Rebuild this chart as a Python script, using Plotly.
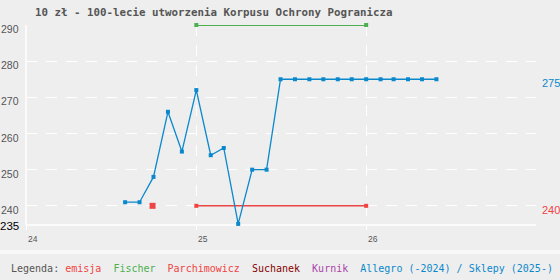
import plotly.graph_objects as go

# ---- data ----
months = ["2024-08-01", "2024-09-01", "2024-10-01", "2024-11-01", "2024-12-01",
          "2025-01-01", "2025-02-01", "2025-03-01", "2025-04-01", "2025-05-01",
          "2025-06-01", "2025-07-01", "2025-08-01", "2025-09-01", "2025-10-01",
          "2025-11-01", "2025-12-01", "2026-01-01", "2026-02-01", "2026-03-01",
          "2026-04-01", "2026-05-01", "2026-06-01"]
allegro = [241, 241, 248, 266, 255, 272, 254, 256, 235, 250, 250, 275,
           275, 275, 275, 275, 275, 275, 275, 275, 275, 275, 275]

emisja_date = ["2024-09-29"]
emisja_val = [240]

fischer_dates = ["2025-01-01", "2026-01-01"]
fischer_vals = [290, 290]

parch_dates = ["2025-01-01", "2026-01-01"]
parch_vals = [240, 240]

y_ticks = [240, 250, 260, 270, 280, 290]
x_ticks = ["2024-01-01", "2025-01-01", "2026-01-01"]
x_tick_text = ["24", "25", "26"]
y_min_label = 235

title = "10 zł - 100-lecie utworzenia Korpusu Ochrony Pogranicza"

BLUE = "#0a88cc"
RED = "#ee4444"
GREEN = "#4cb050"
GREY = "#555555"
BG = "#eeeeee"

fig = go.Figure()

fig.add_trace(go.Scatter(x=fischer_dates, y=fischer_vals, mode="lines+markers",
                         line=dict(color=GREEN, width=1.8),
                         marker=dict(symbol="square", size=4, color=GREEN),
                         cliponaxis=False, hoverinfo="skip"))
fig.add_trace(go.Scatter(x=parch_dates, y=parch_vals, mode="lines+markers",
                         line=dict(color=RED, width=1.5),
                         marker=dict(symbol="square", size=4, color=RED),
                         cliponaxis=False, hoverinfo="skip"))
fig.add_trace(go.Scatter(x=months, y=allegro, mode="lines+markers",
                         line=dict(color=BLUE, width=1.3),
                         marker=dict(symbol="square", size=4, color=BLUE),
                         cliponaxis=False, hoverinfo="skip"))
fig.add_trace(go.Scatter(x=emisja_date, y=emisja_val, mode="markers",
                         marker=dict(symbol="square", size=6, color=RED),
                         cliponaxis=False, hoverinfo="skip"))

fig.update_layout(
    width=560, height=280,
    margin=dict(l=26, r=24, t=25, b=55),
    paper_bgcolor=BG, plot_bgcolor=BG,
    showlegend=False,
)

fig.update_xaxes(
    type="date", range=["2024-01-01", "2027-01-01"],
    tickvals=x_ticks, ticktext=["", "", ""],
    showgrid=True, gridcolor="white", gridwidth=1, griddash="11px,9px",
    showline=False, zeroline=False,
    ticks="outside", ticklen=4, tickcolor="white", tickwidth=1,
)
fig.update_yaxes(
    range=[234.7, 290],
    tickvals=y_ticks, ticktext=[""] * len(y_ticks),
    showgrid=True, gridcolor="white", gridwidth=1, griddash="11px,9px",
    showline=False, zeroline=False, ticks="",
)

# axis lines
fig.add_shape(type="line", xref="paper", yref="paper", x0=0, x1=1, y0=0, y1=0,
              line=dict(color="white", width=1.5), layer="below")
fig.add_shape(type="line", xref="paper", yref="paper", x0=0, x1=0, y0=0, y1=1,
              line=dict(color="white", width=1.5), layer="below")

plot_w, plot_h = 510, 200

# bottom separator strip
fig.add_shape(type="rect", xref="paper", yref="paper",
              x0=-26 / plot_w, x1=(560 - 26) / plot_w,
              y0=(225 - 250) / plot_h, y1=(225 - 254) / plot_h,
              line=dict(width=0), fillcolor="#f8f8f8", layer="below")

ann = []
for v in y_ticks:
    ann.append(dict(x=0, y=v, xref="paper", yref="y", text=str(v),
                    xanchor="right", yanchor="middle", xshift=-5, yshift=-4,
                    showarrow=False,
                    font=dict(family="Liberation Sans", size=10.5, color=GREY)))
ann.append(dict(x=0, y=y_min_label, xref="paper", yref="y", text=str(y_min_label),
                xanchor="right", yanchor="middle", xshift=-5, yshift=-2,
                showarrow=False,
                font=dict(family="Liberation Sans", size=11.5, color="black")))
for d, t in zip(x_ticks, x_tick_text):
    ann.append(dict(x=d, y=0, xref="x", yref="paper", text=t,
                    xanchor="left", yanchor="middle", xshift=0, yshift=-14,
                    showarrow=False,
                    font=dict(family="Liberation Sans", size=8.5, color=GREY)))

# right-side current-value labels
ann.append(dict(x=1, y=allegro[-1], xref="paper", yref="y", text=str(allegro[-1]),
                xanchor="left", yanchor="middle", xshift=4, yshift=-4,
                showarrow=False,
                font=dict(family="Liberation Sans", size=11, color=BLUE)))
ann.append(dict(x=1, y=parch_vals[-1], xref="paper", yref="y", text=str(parch_vals[-1]),
                xanchor="left", yanchor="middle", xshift=4, yshift=-4,
                showarrow=False,
                font=dict(family="Liberation Sans", size=11, color=RED)))

# title (positioned relative to plot area)
ann.append(dict(x=(33 - 26) / plot_w, y=(225 - 12) / plot_h, xref="paper", yref="paper",
                text=title, showarrow=False, xanchor="left", yanchor="middle",
                font=dict(family="DejaVu Sans Mono", size=10.8, color=GREY,
                          weight="bold")))

# legend line
sp = "\u00a0"
legend_text = (
    f"<span style='color:{GREY}'>Legenda:</span>{sp}"
    f"<span style='color:{RED}'>emisja</span>{sp*2}"
    f"<span style='color:{GREEN}'>Fischer</span>{sp*2}"
    f"<span style='color:{RED}'>Parchimowicz</span>{sp*2}"
    f"<span style='color:#880000'>Suchanek</span>{sp*2}"
    f"<span style='color:#aa44aa'>Kurnik</span>{sp*2}"
    f"<span style='color:{BLUE}'>Allegro (-2024) / Sklepy (2025-)</span>"
)
ann.append(dict(x=(9 - 26) / plot_w, y=(225 - 268) / plot_h, xref="paper", yref="paper",
                text=legend_text, showarrow=False, xanchor="left", yanchor="middle",
                font=dict(family="DejaVu Sans Mono", size=10, color=GREY)))

fig.update_layout(annotations=ann)

fig.write_html("out.html")
